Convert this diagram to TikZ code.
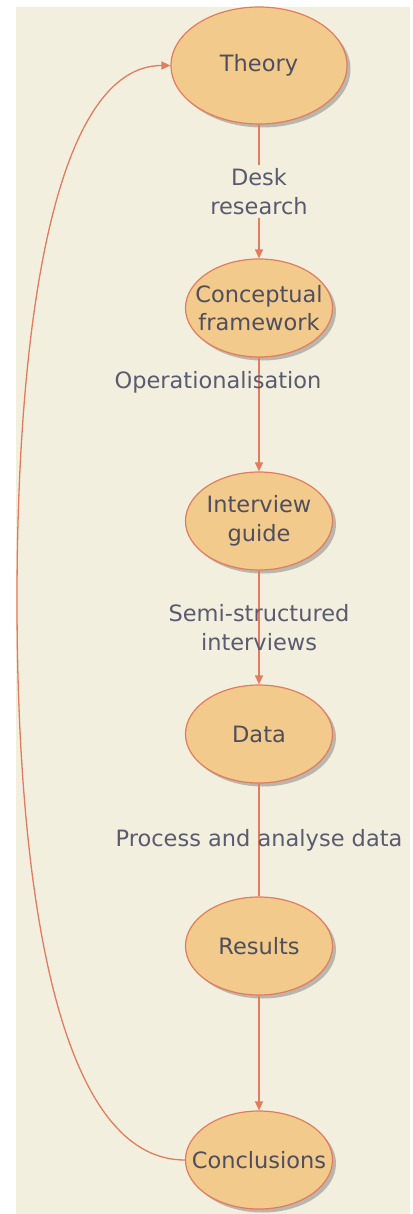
\documentclass[tikz,border=0pt]{standalone}
\usepackage{fontspec}
\setmainfont{DejaVu Sans}
\usetikzlibrary{shapes.geometric,arrows.meta,shadows}
\definecolor{panel}{HTML}{F3EFDE}
\definecolor{stepfill}{HTML}{F2CA8C}
\definecolor{flow}{HTML}{E37B5E}
\definecolor{ink}{HTML}{4E4E5E}
\definecolor{labelink}{HTML}{5A5A70}
\tikzset{
  stage/.style={ellipse, draw=flow, line width=1.2pt, fill=stepfill, inner sep=0pt,
    minimum width=147pt, minimum height=98pt,
    drop shadow={shadow xshift=3.5pt, shadow yshift=-3.5pt, opacity=0.45, fill=black!55}},
  stagetext/.style={text=ink, align=center, inner sep=0pt,
    font=\fontsize{22.5}{28.5}\selectfont},
  edgetext/.style={text=labelink, align=center, inner sep=1pt,
    font=\fontsize{22.5}{28.5}\selectfont},
  flowline/.style={draw=flow, line width=1.3pt},
  flowarrow/.style={flowline, -{Triangle[length=9pt,width=8pt]}}
}
\begin{document}
\begin{tikzpicture}[x=1pt,y=-1pt]
  \useasboundingbox (0,0) rectangle (412,1214);
  \fill[white] (0,0) rectangle (412,1214);
  \fill[panel] (16,7) rectangle (410,1214);

  % stages
  \node[stage, minimum width=176pt, minimum height=117pt,
        label={[stagetext]center:Theory}] (theory) at (259,65.5) {};
  \node[stage, label={[stagetext]center:Conceptual\\framework}] (frame) at (259,308) {};
  \node[stage, label={[stagetext]center:Interview\\guide}] (guide) at (259,521) {};
  \node[stage, label={[stagetext]center:Data}] (data) at (259,734) {};
  \node[stage, label={[stagetext]center:Results}] (results) at (259,946) {};
  \node[stage, label={[stagetext]center:Conclusions}] (concl) at (259,1160) {};

  % connectors
  \draw[flowarrow] (theory) -- node[edgetext, fill=panel, inner ysep=4pt] (desk) {Desk\\research} (frame);
  \draw[flowarrow] (frame) -- (guide);
  \node[edgetext] (oper) at (218,382) {Operationalisation};
  \draw[flowarrow] (guide) -- node[edgetext] (semi) {Semi-structured\\interviews} (data);
  \draw[flowline] (data) -- node[edgetext] (proc) {Process and analyse data} (results);
  \draw[flowarrow] (results) -- (concl);

  % feedback loop back to theory
  \coordinate (loopleft) at (17,600);
  \draw[flowarrow] (concl.west) .. controls (60,1160) and (17,900) .. (loopleft)
                                .. controls (17,300) and (60,65.5) .. (theory.west);
\end{tikzpicture}
\end{document}
